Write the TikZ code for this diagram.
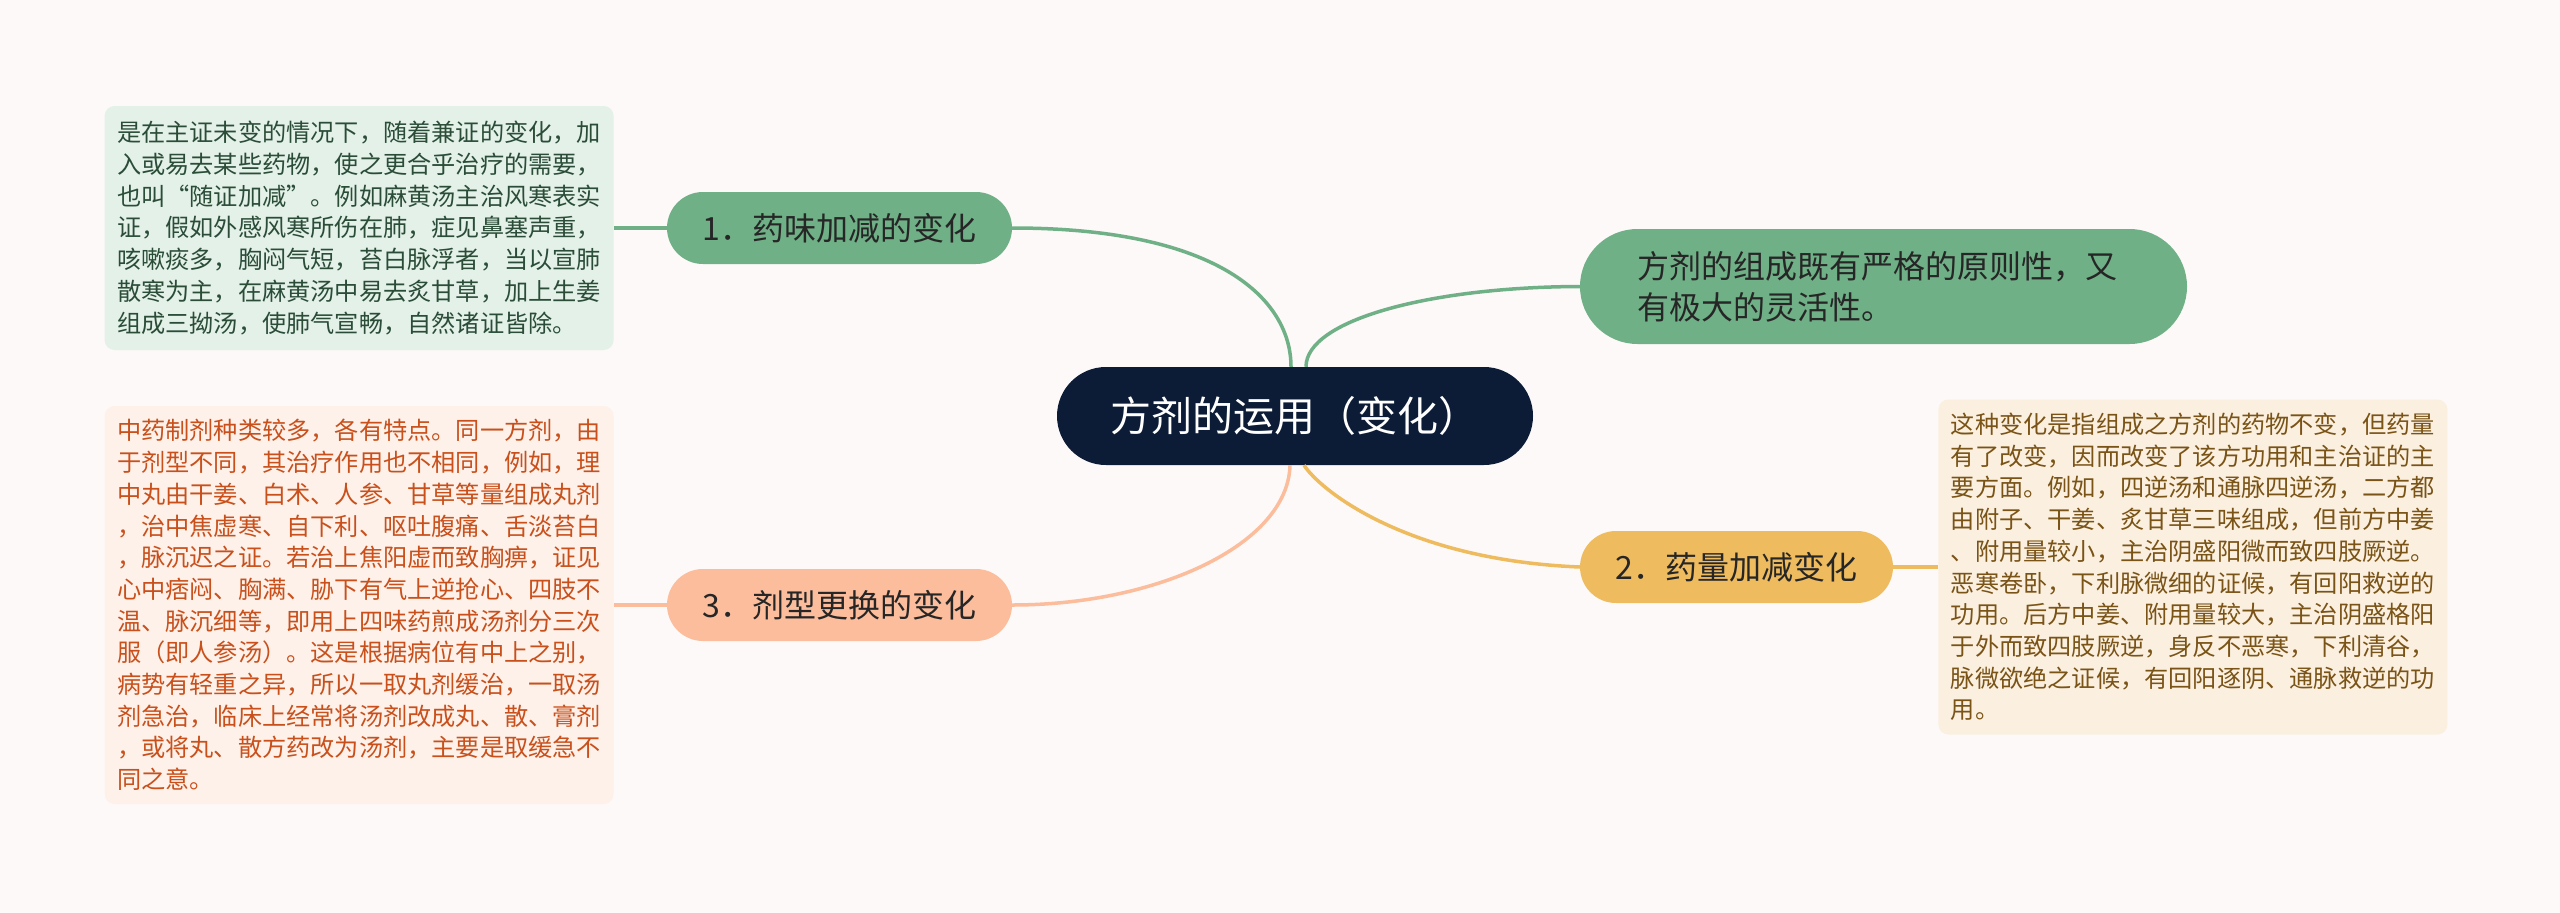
\documentclass[tikz,border=0pt]{standalone}
\usepackage{fontspec}
\setmainfont{Noto Sans CJK SC}
\usepackage{xcolor}
\usetikzlibrary{positioning}

\definecolor{bgc}{HTML}{FDF9F8}
\definecolor{rootc}{HTML}{0C1C36}
\definecolor{greenc}{HTML}{6FB086}
\definecolor{goldc}{HTML}{EEBB5E}
\definecolor{salmonc}{HTML}{FBBD9C}
\definecolor{greenbg}{HTML}{E3F1E8}
\definecolor{greentx}{HTML}{2B4D38}
\definecolor{salmonbg}{HTML}{FDF1EA}
\definecolor{salmontx}{HTML}{C9501B}
\definecolor{goldbg}{HTML}{FBF0E0}
\definecolor{goldtx}{HTML}{7A5316}

\begin{document}
\begin{tikzpicture}[
  x=1pt, y=-1pt,
  root/.style={fill=rootc,text=white,rounded corners=49pt,minimum width=476pt,minimum height=98pt,inner sep=0pt,font=\fontsize{41}{48}\selectfont},
  pill/.style={rounded corners=36pt,minimum height=72pt,inner sep=0pt,text=black!85,font=\fontsize{32}{40}\selectfont},
  note/.style={rounded corners=10pt,minimum width=509pt,text width=484pt,inner xsep=12.5pt,align=left,font=\fontsize{24.2}{31.7}\selectfont},
  link/.style={line width=3.5pt}
]
  \fill[bgc] (0,0) rectangle (2560,913);
  \useasboundingbox (0,0) rectangle (2560,913);

  \node[root] (root) at (1295,416) {方剂的运用（变化）};
  \node[pill, fill=greenc, minimum width=345pt] (b1) at (839.5,228) {1．药味加减的变化};
  \node[pill, fill=goldc, minimum width=313pt] (b2) at (1736.5,567) {2．药量加减变化};
  \node[pill, fill=salmonc, minimum width=345pt] (b3) at (839.5,605) {3．剂型更换的变化};
  \node[pill, fill=greenc, minimum width=607pt, minimum height=115pt, rounded corners=57.5pt,
        text width=493pt, align=left, font=\fontsize{32}{41}\selectfont] (b0) at (1883.5,286.5)
    {方剂的组成既有严格的原则性，又\\有极大的灵活性。};

  \node[note, fill=greenbg, text=greentx, minimum height=244pt, left=53pt of b1] (n1)
    {是在主证未变的情况下，随着兼证的变化，加\\入或易去某些药物，使之更合乎治疗的需要，\\也叫“随证加减”。例如麻黄汤主治风寒表实\\证，假如外感风寒所伤在肺，症见鼻塞声重，\\咳嗽痰多，胸闷气短，苔白脉浮者，当以宣肺\\散寒为主，在麻黄汤中易去炙甘草，加上生姜\\组成三拗汤，使肺气宣畅，自然诸证皆除。};
  \node[note, fill=goldbg, text=goldtx, minimum height=335pt, right=45pt of b2] (n2)
    {这种变化是指组成之方剂的药物不变，但药量\\有了改变，因而改变了该方功用和主治证的主\\要方面。例如，四逆汤和通脉四逆汤，二方都\\由附子、干姜、炙甘草三味组成，但前方中姜\\、附用量较小，主治阴盛阳微而致四肢厥逆。\\恶寒卷卧，下利脉微细的证候，有回阳救逆的\\功用。后方中姜、附用量较大，主治阴盛格阳\\于外而致四肢厥逆，身反不恶寒，下利清谷，\\脉微欲绝之证候，有回阳逐阴、通脉救逆的功\\用。};
  \node[note, fill=salmonbg, text=salmontx, minimum height=398pt, left=53pt of b3] (n3)
    {中药制剂种类较多，各有特点。同一方剂，由\\于剂型不同，其治疗作用也不相同，例如，理\\中丸由干姜、白术、人参、甘草等量组成丸剂\\，治中焦虚寒、自下利、呕吐腹痛、舌淡苔白\\，脉沉迟之证。若治上焦阳虚而致胸痹，证见\\心中痞闷、胸满、胁下有气上逆抢心、四肢不\\温、脉沉细等，即用上四味药煎成汤剂分三次\\服（即人参汤）。这是根据病位有中上之别，\\病势有轻重之异，所以一取丸剂缓治，一取汤\\剂急治，临床上经常将汤剂改成丸、散、膏剂\\，或将丸、散方药改为汤剂，主要是取缓急不\\同之意。};

  % branch ends on the root
  \coordinate (tl) at ([xshift=-4pt]root.north);
  \coordinate (tr) at ([xshift=11pt]root.north);
  \coordinate (bl) at ([xshift=-5pt]root.south);
  \coordinate (br) at ([xshift=9pt]root.south);

  \draw[link, greenc] (b1.east) .. controls (1220,228) and (1291,300) .. (tl);
  \draw[link, greenc] (tr) .. controls (1306,320) and (1430,287) .. (b0.west);
  \draw[link, goldc] (br) .. controls (1320,490) and (1406,560) .. (b2.west);
  \draw[link, salmonc] (bl) .. controls (1288,545) and (1156,605) .. (b3.east);

  \draw[link, greenc] (b1) -- (n1);
  \draw[link, goldc] (b2) -- (n2);
  \draw[link, salmonc] (b3) -- (n3);
\end{tikzpicture}
\end{document}
